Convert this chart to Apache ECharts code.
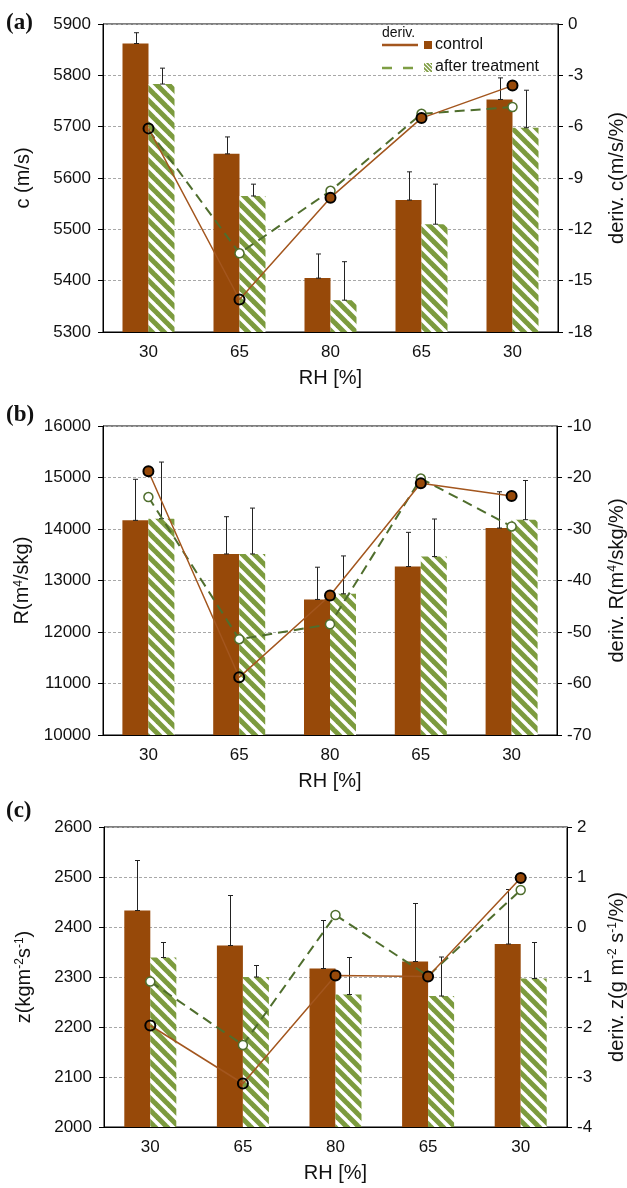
<!DOCTYPE html>
<html>
<head>
<meta charset="utf-8">
<script src="https://cdn.jsdelivr.net/npm/echarts@6/dist/echarts.min.js"></script>
<style>
html, body { margin: 0; padding: 0; background: #fff; }
#main { width: 627px; height: 1188px; }
</style>
</head>
<body>
<div id="main"></div>
<script>
var categories = ['30', '65', '80', '65', '30'];

// (a) sound velocity c
var cControl = [5862, 5647, 5405, 5557, 5753];
var cControlErr = [21, 33, 47, 55, 42];
var cTreated = [5783, 5565, 5362, 5510, 5698];
var cTreatedErr = [31, 23, 75, 78, 73];
var cDerivControl = [-6.1, -16.1, -10.15, -5.5, -3.6];
var cDerivTreated = [-6.2, -13.4, -9.75, -5.25, -4.85];

// (b) R
var rControl = [14168, 13516, 12632, 13271, 14019];
var rControlErr = [797, 723, 626, 664, 704];
var rTreated = [14200, 13516, 12742, 13465, 14181];
var rTreatedErr = [1100, 890, 735, 729, 761];
var rDerivControl = [-18.8, -58.8, -42.9, -21.1, -23.6];
var rDerivTreated = [-23.8, -51.4, -48.5, -20.2, -29.5];

// (c) z
var zControl = [2433, 2363, 2317, 2331, 2366];
var zControlErr = [100, 100, 96, 116, 109];
var zTreated = [2339, 2300, 2265, 2262, 2297];
var zTreatedErr = [30, 23, 74, 78, 72];
var zDerivControl = [-1.97, -3.13, -0.97, -0.99, 0.98];
var zDerivTreated = [-1.09, -2.36, 0.24, -0.98, 0.74];

var FONT = '"Liberation Sans", Arial, Helvetica, sans-serif';
var BROWN = '#974909';
var GREEN = '#7c9b3e';
var LINE_BROWN = '#a3561e';
var LINE_GREEN = '#4f6e2d';

function makeHatch(size, width) {
  var c = document.createElement('canvas');
  c.width = size; c.height = size;
  var g = c.getContext('2d');
  g.fillStyle = '#fff';
  g.fillRect(0, 0, size, size);
  g.strokeStyle = GREEN;
  g.lineWidth = width;
  [-size, 0, size].forEach(function (k) {
    g.beginPath();
    g.moveTo(k - 3, -3);
    g.lineTo(k + size + 3, size + 3);
    g.stroke();
  });
  return c;
}
var hatch = { image: makeHatch(12, 5), repeat: 'repeat' };
var hatchSmall = { image: makeHatch(4, 1.6), repeat: 'repeat' };

var panels = [
  {
    grid: { left: 103, right: 69, top: 24, height: 308 },
    label: '(a)', labelTop: 12,
    left: { min: 5300, max: 5900, interval: 100, name: 'c (m/s)', gap: 70 },
    right: { min: -18, max: 0, interval: 3, name: 'deriv. c(m/s/%)', gap: 49 },
    bars: [cControl, cControlErr, cTreated, cTreatedErr],
    deriv: [cDerivControl, cDerivTreated],
    hollow: [0, 1], hide: [0]
  },
  {
    grid: { left: 103, right: 70, top: 426, height: 309 },
    label: '(b)', labelTop: 404,
    left: { min: 10000, max: 16000, interval: 1000, name: 'R(m{s|4}/skg)', gap: 70 },
    right: { min: -70, max: -10, interval: 10, name: 'deriv. R(m{s|4}/skg/%)', gap: 50 },
    bars: [rControl, rControlErr, rTreated, rTreatedErr],
    deriv: [rDerivControl, rDerivTreated],
    hollow: [1], hide: []
  },
  {
    grid: { left: 104, right: 60, top: 827, height: 300 },
    label: '(c)', labelTop: 800,
    left: { min: 2000, max: 2600, interval: 100, name: 'z(kgm{s|-2}s{s|-1})', gap: 70 },
    right: { min: -4, max: 2, interval: 1, name: 'deriv. z(g m{s|-2} s{s|-1}/%)', gap: 40 },
    bars: [zControl, zControlErr, zTreated, zTreatedErr],
    deriv: [zDerivControl, zDerivTreated],
    hollow: [0, 1], hide: []
  }
];

var nameStyle = {
  fontSize: 20, fontFamily: FONT, color: '#111',
  rich: { s: { fontSize: 12, fontFamily: FONT, color: '#111', verticalAlign: 'top' } }
};
var labelStyle = { fontSize: 17, fontFamily: FONT, color: '#111' };
function plain(v) { return String(v); }

function errorSeries(vals, errs, offset, xi, yi) {
  return {
    type: 'custom', xAxisIndex: xi, yAxisIndex: yi, z: 5,
    data: vals.map(function (v, i) { return [i, v, errs[i]]; }),
    encode: { x: 0, y: 1 },
    renderItem: function (params, api) {
      var b = api.coord([api.value(0), api.value(1)]);
      var t = api.coord([api.value(0), api.value(1) + api.value(2)]);
      var x = Math.round(b[0] + offset) + 0.5;
      var st = { stroke: '#222', lineWidth: 1 };
      return {
        type: 'group', children: [
          { type: 'line', shape: { x1: x, y1: b[1], x2: x, y2: t[1] }, style: st },
          { type: 'line', shape: { x1: x - 2.5, y1: t[1], x2: x + 2.5, y2: t[1] }, style: st },
          { type: 'line', shape: { x1: x - 2.5, y1: b[1], x2: x + 2.5, y2: b[1] }, style: st }
        ]
      };
    }
  };
}

var grids = [], xAxes = [], yAxes = [], series = [], graphics = [];

panels.forEach(function (p, i) {
  grids.push(Object.assign({
    show: true, borderColor: '#000', borderWidth: 1, backgroundColor: 'transparent',
    containLabel: false, outerBoundsMode: 'none'
  }, p.grid));
  xAxes.push({
    type: 'category', gridIndex: i, data: categories,
    name: 'RH [%]', nameLocation: 'middle', nameGap: 36, nameTextStyle: nameStyle,
    axisLine: { onZero: false, lineStyle: { color: '#000', width: 1 } },
    axisTick: { length: 5, lineStyle: { color: '#000' } },
    axisLabel: Object.assign({ margin: 12 }, labelStyle)
  });
  yAxes.push({
    type: 'value', gridIndex: i, position: 'left',
    min: p.left.min, max: p.left.max, interval: p.left.interval,
    name: p.left.name, nameLocation: 'middle', nameRotate: 90, nameGap: p.left.gap, nameTextStyle: nameStyle,
    axisLine: { show: true, onZero: false, lineStyle: { color: '#000', width: 1 } },
    axisTick: { show: true, length: 5, lineStyle: { color: '#000' } },
    axisLabel: Object.assign({ margin: 12, formatter: plain }, labelStyle),
    splitLine: { show: true, lineStyle: { color: '#a8a8a8', type: [3, 2], width: 1 } }
  });
  yAxes.push({
    type: 'value', gridIndex: i, position: 'right',
    min: p.right.min, max: p.right.max, interval: p.right.interval,
    name: p.right.name, nameLocation: 'middle', nameRotate: 90, nameGap: p.right.gap, nameTextStyle: nameStyle,
    axisLine: { show: true, onZero: false, lineStyle: { color: '#000', width: 1 } },
    axisTick: { show: true, length: 5, lineStyle: { color: '#000' } },
    axisLabel: Object.assign({ margin: 10, formatter: plain }, labelStyle),
    splitLine: { show: false }
  });

  var yl = i * 2, yr = i * 2 + 1;
  series.push({
    type: 'bar', name: 'control', xAxisIndex: i, yAxisIndex: yl,
    data: p.bars[0], barWidth: 26, barGap: '0%',
    itemStyle: { color: BROWN }
  });
  series.push({
    type: 'bar', name: 'after treatment', xAxisIndex: i, yAxisIndex: yl,
    data: p.bars[2], barWidth: 26, barGap: '0%',
    itemStyle: { color: hatch }
  });
  series.push(errorSeries(p.bars[0], p.bars[1], -13, i, yl));
  series.push(errorSeries(p.bars[2], p.bars[3], 13, i, yl));
  series.push({
    type: 'line', xAxisIndex: i, yAxisIndex: yr, z: 10,
    data: p.deriv[1].map(function (v, k) {
      return p.hide.indexOf(k) >= 0 ? { value: v, symbolSize: 0 } : v;
    }),
    symbol: 'circle', symbolSize: 9,
    lineStyle: { color: LINE_GREEN, width: 2, type: [10, 6] },
    itemStyle: { color: '#fff', borderColor: LINE_GREEN, borderWidth: 1.5 }
  });
  series.push({
    type: 'line', xAxisIndex: i, yAxisIndex: yr, z: 11,
    data: p.deriv[0].map(function (v, k) {
      return p.hollow.indexOf(k) >= 0 ? { value: v, itemStyle: { color: 'rgba(0,0,0,0)' } } : v;
    }),
    symbol: 'circle', symbolSize: 10,
    lineStyle: { color: LINE_BROWN, width: 1.5 },
    itemStyle: { color: BROWN, borderColor: '#000', borderWidth: 2 }
  });

  graphics.push({
    type: 'text', left: 6, top: p.labelTop,
    style: { text: p.label, font: 'bold 23px "Liberation Serif", "Times New Roman", serif', fill: '#111' }
  });
});

// legend of panel (a)
graphics.push(
  { type: 'text', x: 382, y: 26, style: { text: 'deriv.', font: '14px ' + FONT, fill: '#111' } },
  { type: 'line', shape: { x1: 382, y1: 45, x2: 418, y2: 45 }, style: { stroke: LINE_BROWN, lineWidth: 2.5 } },
  { type: 'rect', shape: { x: 424, y: 41, width: 8, height: 8 }, style: { fill: BROWN } },
  { type: 'text', x: 435, y: 45, style: { text: 'control', font: '16px ' + FONT, fill: '#111', verticalAlign: 'middle' } },
  { type: 'line', shape: { x1: 382, y1: 68, x2: 418, y2: 68 }, style: { stroke: '#7e9e44', lineWidth: 2.5, lineDash: [10, 11] } },
  { type: 'rect', shape: { x: 424, y: 63, width: 8, height: 9 }, style: { fill: hatchSmall } },
  { type: 'text', x: 435, y: 67, style: { text: 'after treatment', font: '16px ' + FONT, fill: '#111', verticalAlign: 'middle' } }
);

var myChart = echarts.init(document.getElementById('main'));
myChart.setOption({
  animation: false,
  backgroundColor: '#fff',
  grid: grids,
  xAxis: xAxes,
  yAxis: yAxes,
  series: series,
  graphic: graphics
});
</script>
</body>
</html>
